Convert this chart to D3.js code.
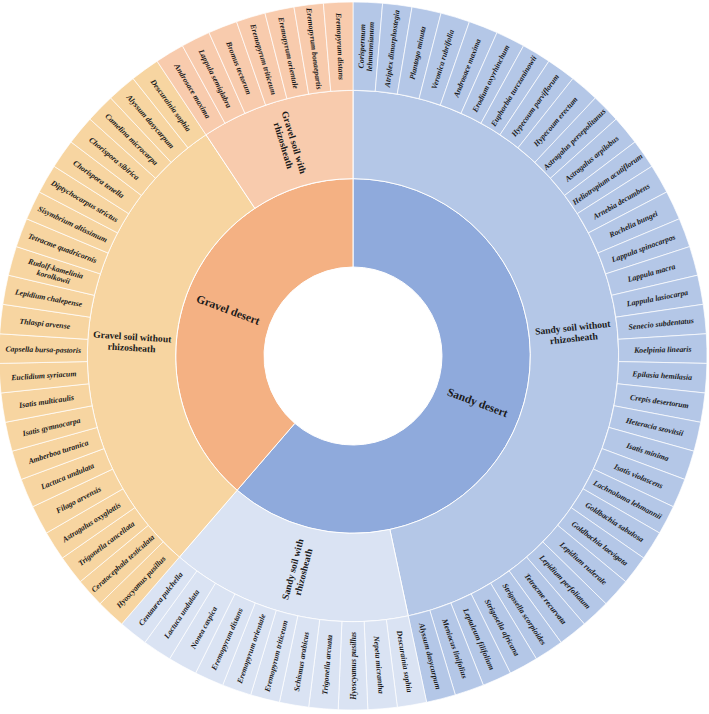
<!DOCTYPE html>
<html>
<head>
<meta charset="utf-8">
<script src="https://cdn.jsdelivr.net/npm/d3@7"></script>
<style>
  body { margin: 0; background: #fff; }
  text { font-family: "Liberation Serif", "Times New Roman", serif; fill: #1a1a1a; }
</style>
</head>
<body>
<div id="chart"></div>
<script>
// habitats (inner ring) and soil groups (middle ring)
const habitats = ["Sandy desert", "Gravel desert"];
const soilGroups = [
  { name: "Sandy soil without rhizosheath", habitat: "Sandy desert" },
  { name: "Sandy soil with rhizosheath", habitat: "Sandy desert" },
  { name: "Gravel soil without rhizosheath", habitat: "Gravel desert" },
  { name: "Gravel soil with rhizosheath", habitat: "Gravel desert" }
];

// species per group, clockwise from 12 o'clock
const sandyWithout = [
  "Corispermum lehmannianum", "Atriplex dimorphostegia", "Plantago minuta",
  "Veronica rubrifolia", "Androsace maxima", "Erodium oxyrhinchum",
  "Euphorbia turczaninowii", "Hypecoum parviflorum", "Hypecoum erectum",
  "Astragalus persepolitanus", "Astragalus arpilobus", "Heliotropium acutiflorum",
  "Arnebia decumbens", "Rochelia bungei", "Lappula spinocarpos", "Lappula macra",
  "Lappula lasiocarpa", "Senecio subdentatus", "Koelpinia linearis",
  "Epilasia hemilasia", "Crepis desertorum", "Heteracia szovitsii", "Isatis minima",
  "Isatis violascens", "Lachnoloma lehmannii", "Goldbachia sabulosa",
  "Goldbachia laevigata", "Lepidium ruderale", "Lepidium perfoliatum",
  "Tetracme recurvata", "Strigosella scorpioides", "Strigosella africana",
  "Leptaleum filifolium", "Meniocus linifolius", "Alyssum dasycarpum"
];
const sandyWith = [
  "Descurainia sophia", "Nepeta micrantha", "Hyoscyamus pusillus",
  "Trigonella arcuata", "Schismus arabicus", "Eremopyrum triticeum",
  "Eremopyrum orientale", "Eremopyrum distans", "Nonea caspica",
  "Lactuca undulata", "Centaurea pulchella"
];
const gravelWithout = [
  "Hyoscyamus pusillus", "Ceratocephala testiculata", "Trigonella cancellata",
  "Astragalus oxyglottis", "Filago arvensis", "Lactuca undulata",
  "Amberboa turanica", "Isatis gymnocarpa", "Isatis multicaulis",
  "Euclidium syriacum", "Capsella bursa-pastoris", "Thlaspi arvense",
  "Lepidium chalepense", "Rudolf-kamelinia korolkowii", "Tetracme quadricornis",
  "Sisymbrium altissimum", "Diptychocarpus strictus", "Chorispora tenella",
  "Chorispora sibirica", "Camelina microcarpa", "Alyssum dasycarpum",
  "Descurainia sophia"
];
const gravelWith = [
  "Androsace maxima", "Lappula semiglabra", "Bromus tectorum",
  "Eremopyrum triticeum", "Eremopyrum orientale", "Eremopyrum bonaepartis",
  "Eremopyrum distans"
];
const speciesByGroup = [sandyWithout, sandyWith, gravelWithout, gravelWith];

const groupColors = ["#b4c7e7", "#dae3f3", "#f7d5a1", "#f8cbad"];
const habitatColors = ["#8faadc", "#f4b183"];
const twoLine = new Set(["Corispermum lehmannianum", "Rudolf-kamelinia korolkowii"]);

const width = 709, height = 714;
const cx = 353, cy = 356;

const data = {
  name: "root",
  children: habitats.map((h, hi) => ({
    name: h,
    color: habitatColors[hi],
    children: soilGroups
      .map((g, gi) => ({ g, gi }))
      .filter(o => o.g.habitat === h)
      .map(({ g, gi }) => ({
        name: g.name,
        color: groupColors[gi],
        children: speciesByGroup[gi].map(s => ({ name: s, color: groupColors[gi], value: 1 }))
      }))
  }))
};

const root = d3.partition().size([2 * Math.PI, 4])(
  d3.hierarchy(data).sum(d => d.value || 0)
);

const radius = d3.scaleLinear().domain([1, 4]).range([89, 354]);

const arc = d3.arc()
  .startAngle(d => d.x0)
  .endAngle(d => d.x1)
  .innerRadius(d => radius(d.y0))
  .outerRadius(d => radius(d.y1));

const svg = d3.select("#chart")
  .append("svg")
  .attr("width", width)
  .attr("height", height);

const g = svg.append("g").attr("transform", `translate(${cx},${cy})`);

const nodes = root.descendants().filter(d => d.depth > 0);

g.append("g")
  .selectAll("path")
  .data(nodes)
  .join("path")
  .attr("d", arc)
  .attr("fill", d => d.data.color)
  .attr("stroke", "#fff")
  .attr("stroke-width", d => d.depth === 3 ? 0.7 : 1);

function labelLines(d) {
  if (d.depth === 2) return d.data.name.replace(" rhizosheath", "\nrhizosheath").split("\n");
  if (d.depth === 3 && twoLine.has(d.data.name)) {
    const i = d.data.name.indexOf(" ");
    return [d.data.name.slice(0, i), d.data.name.slice(i + 1)];
  }
  return [d.data.name];
}

const fontSize = { 1: 11.5, 2: 9.6, 3: 7.8 };
const lineH = { 1: 12, 2: 11, 3: 8.6 };

const label = g.append("g")
  .attr("text-anchor", "middle")
  .selectAll("text")
  .data(nodes)
  .join("text")
  .attr("font-size", d => fontSize[d.depth])
  .attr("font-weight", "bold")
  .attr("font-style", d => d.depth === 3 ? "italic" : "normal")
  .attr("transform", d => {
    const a = (d.x0 + d.x1) / 2 * 180 / Math.PI;
    const r = (radius(d.y0) + radius(d.y1)) / 2;
    return `rotate(${a - 90}) translate(${r},0) rotate(${a < 179.9 ? 0 : 180})`;
  });

label.selectAll("tspan")
  .data(d => labelLines(d).map((t, i, arr) => ({ t, i, n: arr.length, depth: d.depth })))
  .join("tspan")
  .attr("x", 0)
  .attr("y", l => (l.i - (l.n - 1) / 2) * lineH[l.depth])
  .attr("dy", "0.35em")
  .text(l => l.t);
</script>
</body>
</html>
